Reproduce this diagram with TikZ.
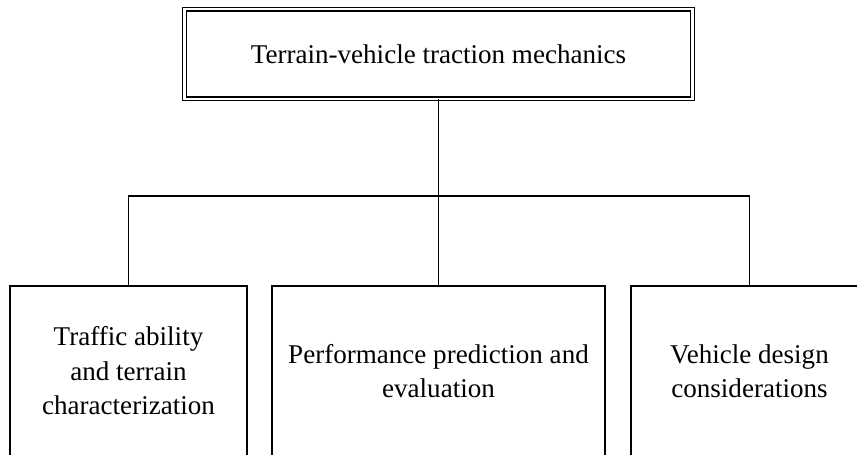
\documentclass[tikz,border=0pt]{standalone}
\usepackage{fontspec}
\setmainfont{Liberation Serif}

\begin{document}
\begin{tikzpicture}[
	topbox/.style={draw, double, line width=.68pt, double distance=1.4pt, minimum width=10.16cm, minimum height=1.79cm, font=\fontsize{15.4}{19.6}\selectfont},
	branchbox/.style={draw, line width=.68pt, minimum height=3.4cm, align=center, inner sep=1pt, font=\fontsize{15.4}{19.6}\selectfont},
	link/.style={line width=.68pt}]
	\useasboundingbox (0,0) rectangle (17.14,9.08);

	\node[topbox] (mech) at (8.77,8) {Terrain-vehicle traction mechanics};

	\node[branchbox, minimum width=4.74cm] (traffic) at (2.57,1.66) {Traffic ability\\and terrain\\characterization};
	\node[branchbox, minimum width=6.66cm] (perf) at (8.77,1.66) {Performance prediction and\\evaluation};
	\node[branchbox, minimum width=4.74cm] (design) at (14.99,1.66) {Vehicle design\\considerations};

	\coordinate (bus) at (8.77,5.16);

	\draw[link] (mech.south) -- (perf.north);
	\draw[link] (traffic.north) |- (bus) -| (design.north);
\end{tikzpicture}
\end{document}
